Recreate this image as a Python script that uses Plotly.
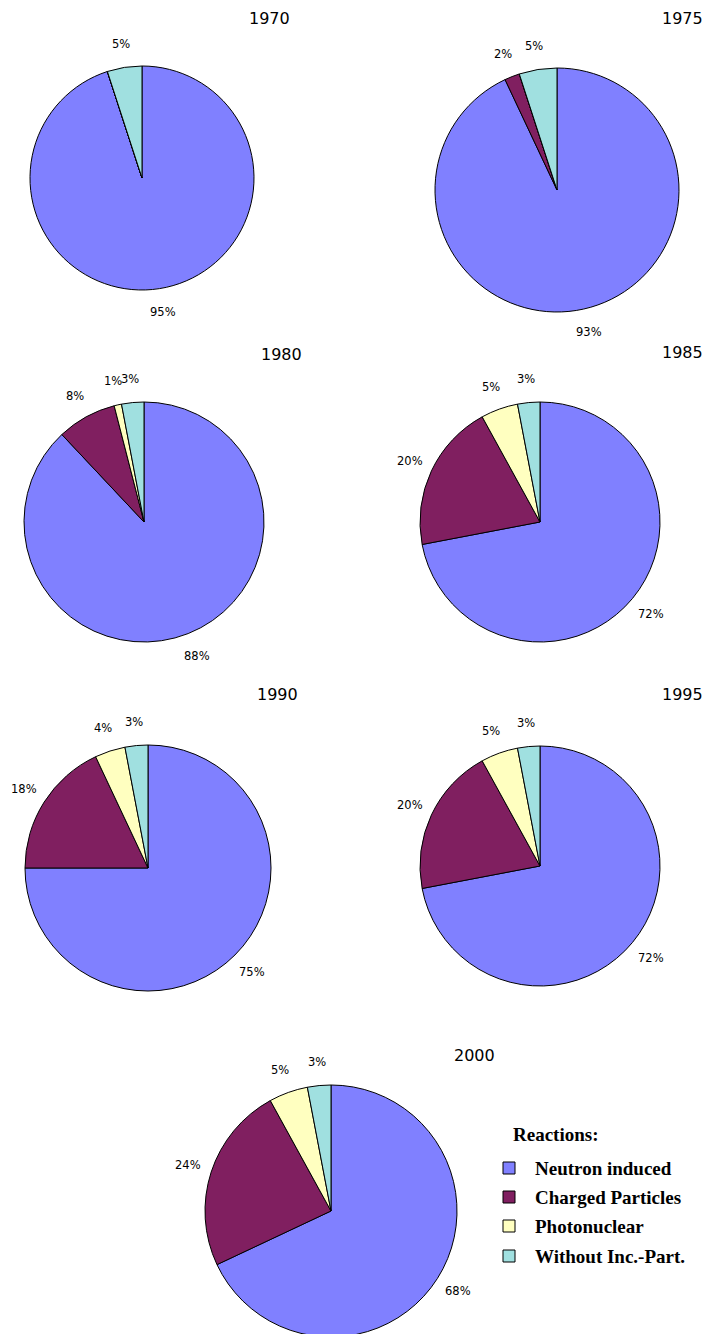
import math
import plotly.graph_objects as go

# ---------------- data ----------------
categories = ["Neutron induced", "Charged Particles", "Photonuclear", "Without Inc.-Part."]
colors = ["#8080FF", "#801F60", "#FFFFC0", "#A0E0E0"]

years = ["1970", "1975", "1980", "1985", "1990", "1995", "2000"]
neutron = [95, 93, 88, 72, 75, 72, 68]
charged = [0, 2, 8, 20, 18, 20, 24]
photonuclear = [0, 0, 1, 5, 4, 5, 5]
without = [5, 5, 3, 3, 3, 3, 3]

# ---------------- layout (page pixels) ----------------
OFF = 8                      # default page margin around the figure
W, H = 707, 1334             # figure size
pie_cx = [142, 557, 144, 540, 148, 540, 331]
pie_cy = [178, 190, 522, 522, 868, 866, 1211]
pie_r = [112, 122, 120, 120, 123, 120, 126]
title_x = [292, 705, 304, 705, 300, 705, 497]
title_y = [18, 18, 355, 353, 695, 695, 1055]
LABEL_GAP = 24

legend_x = 503
legend_title_y = 1134
legend_rows_y = [1168, 1197, 1226, 1256]


def px(x):
    return (x - OFF) / W


def py(y):
    return 1 - (y - OFF) / H


fig = go.Figure()
annotations = []
shapes = []

for i, yr in enumerate(years):
    vals = [neutron[i], charged[i], photonuclear[i], without[i]]
    cx, cy, r = pie_cx[i], pie_cy[i], pie_r[i]
    fig.add_trace(go.Pie(
        labels=categories,
        values=vals,
        textinfo="none",
        sort=False,
        direction="clockwise",
        rotation=0,
        marker=dict(colors=colors, line=dict(color="black", width=1)),
        domain=dict(x=[px(cx - r), px(cx + r)], y=[py(cy + r), py(cy - r)]),
        showlegend=False,
        hoverinfo="label+percent",
        name=yr,
    ))
    # percentage labels outside each slice, at the slice mid-angle
    total = sum(vals)
    cum = 0
    for v in vals:
        if v > 0:
            theta = 2 * math.pi * (cum + v / 2) / total
            lx = cx + (r + LABEL_GAP) * math.sin(theta)
            ly = cy - (r + LABEL_GAP) * math.cos(theta)
            annotations.append(dict(
                x=px(lx), y=py(ly), xref="paper", yref="paper",
                text=f"{v}%", showarrow=False, xanchor="center", yanchor="middle",
                font=dict(family="DejaVu Sans", size=11.5, color="black"),
            ))
        cum += v
    annotations.append(dict(
        x=px(title_x[i]), y=py(title_y[i]), xref="paper", yref="paper",
        text=yr, showarrow=False, xanchor="right", yanchor="middle",
        font=dict(family="DejaVu Sans", size=16, color="black"),
    ))

# legend
annotations.append(dict(
    x=px(legend_x + 8), y=py(legend_title_y), xref="paper", yref="paper",
    text="<b>Reactions:</b>", showarrow=False, xanchor="left", yanchor="middle",
    font=dict(family="Liberation Serif", size=19, color="black"),
))
for cat, col, ry in zip(categories, colors, legend_rows_y):
    shapes.append(dict(
        type="rect", xref="paper", yref="paper",
        x0=px(legend_x), x1=px(legend_x + 12), y0=py(ry + 6), y1=py(ry - 6),
        fillcolor=col, line=dict(color="black", width=1),
    ))
    annotations.append(dict(
        x=px(legend_x + 30), y=py(ry), xref="paper", yref="paper",
        text=f"<b>{cat}</b>", showarrow=False, xanchor="left", yanchor="middle",
        font=dict(family="Liberation Serif", size=19, color="black"),
    ))

fig.update_layout(
    width=W, height=H,
    margin=dict(l=0, r=0, t=0, b=0),
    paper_bgcolor="white",
    plot_bgcolor="white",
    showlegend=False,
    annotations=annotations,
    shapes=shapes,
)

fig.write_html("out.html")
